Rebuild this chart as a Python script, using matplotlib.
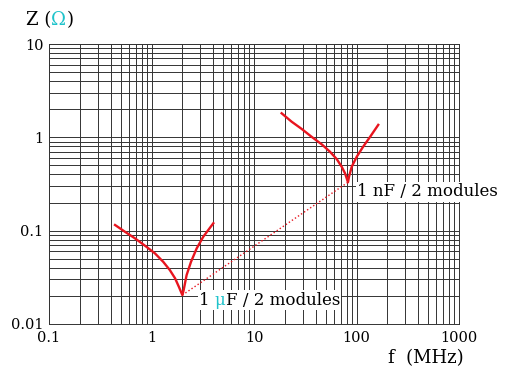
import matplotlib
matplotlib.use("Agg")
import matplotlib.pyplot as plt
from matplotlib.offsetbox import TextArea, HPacker, AnnotationBbox

# values (f in MHz, Z in ohm)
f_1u = [0.441, 0.551, 0.690, 0.865, 1.08, 1.30, 1.51, 1.70, 1.85, 2.0,
        2.06, 2.20, 2.43, 2.76, 3.20, 4.01]
z_1u = [0.115, 0.0973, 0.0827, 0.0689, 0.0571, 0.0464, 0.0378, 0.0308, 0.0250, 0.0204,
        0.0231, 0.0334, 0.0464, 0.0646, 0.0861, 0.120]

f_1n = [18.6, 23.3, 29.2, 36.6, 45.8, 55.1, 64.1, 71.7, 77.3, 82.6,
        84.5, 89.8, 100.5, 116, 135.5, 163]
z_1n = [1.81, 1.47, 1.23, 1.01, 0.841, 0.701, 0.585, 0.484, 0.411, 0.33,
        0.378, 0.484, 0.619, 0.793, 1.01, 1.36]

# dotted line joining the two resonance points
f_link = [2.0, 82.6]
z_link = [0.0204, 0.33]

x_ticks = [0.1, 1, 10, 100, 1000]
x_labels = ["0.1", "1", "10", "100", "1000"]
y_ticks = [0.01, 0.1, 1, 10]
y_labels = ["0.01", "0.1", "1", "10"]

RED = "#e8141e"
CYAN = "#1fc3cb"
GRID = "#333333"
FONT = "DejaVu Serif"

plt.rcParams['font.family'] = FONT

fig = plt.figure(figsize=(5.12, 3.84), dpi=100)
ax = fig.add_axes([0.0957, 0.1563, 0.8008, 0.7291])

ax.set_xscale("log")
ax.set_yscale("log")
ax.set_xlim(0.1, 1000)
ax.set_ylim(0.01, 10)

ax.grid(True, which="both", color=GRID, linewidth=0.7)
ax.set_axisbelow(True)
for s in ax.spines.values():
    s.set_color(GRID)
    s.set_linewidth(0.7)

ax.set_xticks(x_ticks)
ax.set_xticklabels(x_labels)
ax.set_yticks(y_ticks)
ax.set_yticklabels(y_labels)
ax.tick_params(which="both", length=0, labelsize=10.5)
ax.tick_params(axis="x", pad=5)
ax.tick_params(axis="y", pad=4)

ax.plot(f_1u, z_1u, color=RED, linewidth=1.7, solid_joinstyle="round")
ax.plot(f_1n, z_1n, color=RED, linewidth=1.7, solid_joinstyle="round")
ax.plot(f_link, z_link, color=RED, linewidth=1.0, linestyle=":")


def coloured_label(parts, size):
    boxes = [TextArea(t, textprops=dict(color=c, size=size, family=FONT)) for t, c in parts]
    return HPacker(children=boxes, align="baseline", pad=0, sep=0)


lab1 = coloured_label([("1 ", "black"), ("μ", CYAN), ("F / 2 modules", "black")], 12)
ab1 = AnnotationBbox(lab1, (2.9, 0.018), xycoords="data", box_alignment=(0, 0.5),
                     frameon=True, pad=0.1, bboxprops=dict(fc="white", ec="none"))
ax.add_artist(ab1)

lab2 = coloured_label([("1 nF / 2 modules", "black")], 12)
ab2 = AnnotationBbox(lab2, (101, 0.26), xycoords="data", box_alignment=(0, 0.5),
                     frameon=True, pad=0.1, bboxprops=dict(fc="white", ec="none"))
ax.add_artist(ab2)

zlab = coloured_label([("Z (", "black"), ("Ω", CYAN), (")", "black")], 13)
abz = AnnotationBbox(zlab, (26, 384 - 20), xycoords="figure pixels", box_alignment=(0, 0.5),
                     frameon=False)
fig.add_artist(abz)

fig.text(388 / 512, 1 - 358 / 384, "f  (MHz)", fontsize=13, va="center", ha="left")

fig.savefig("out.png", dpi=100)
